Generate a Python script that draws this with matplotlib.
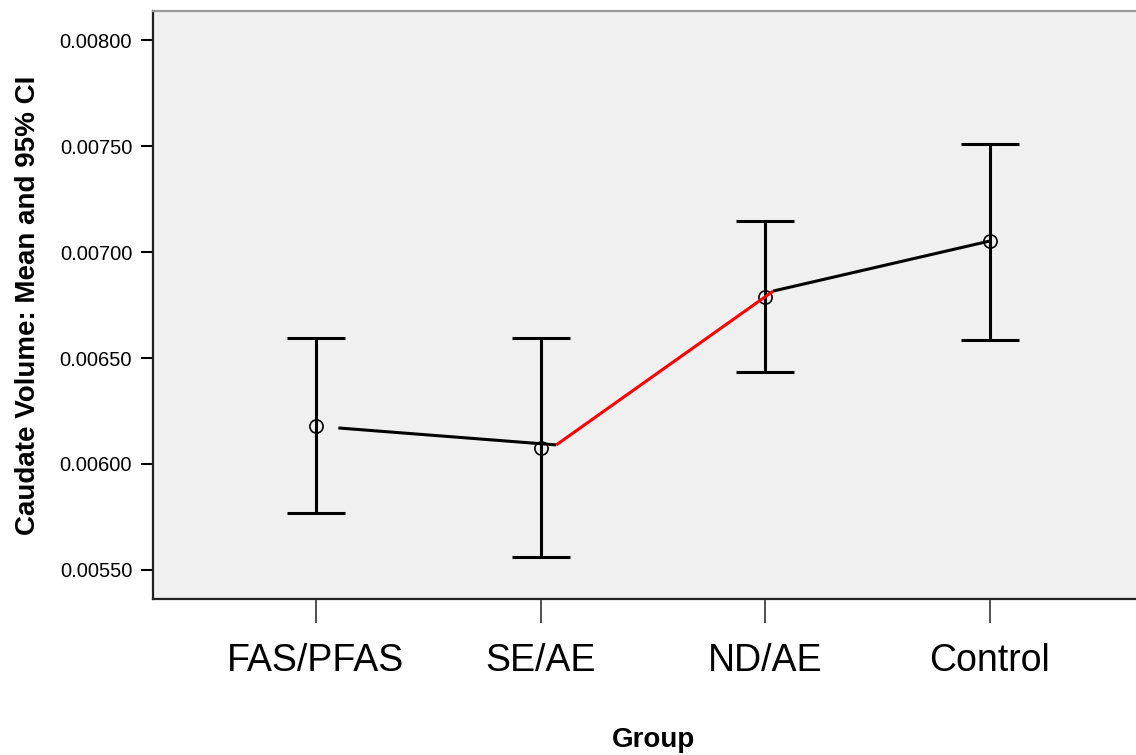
import numpy as np
import matplotlib.pyplot as plt
from matplotlib.ticker import FormatStrFormatter

plt.rcParams['font.family'] = ['Liberation Sans', 'DejaVu Sans']

# data
groups = ['FAS/PFAS', 'SE/AE', 'ND/AE', 'Control']
means = [0.006179, 0.006075, 0.006788, 0.007052]
ci_low = [0.005769, 0.005561, 0.006434, 0.006585]
ci_high = [0.006594, 0.006594, 0.007146, 0.007509]

# connecting line (drawn slightly shifted in the original)
line_y = [0.006170, 0.006090, 0.006816, 0.007052]
line_shift = [0.10, 0.07, 0.036, 0.0]
seg_colors = ['black', 'red', 'black']

x = np.arange(len(groups))
means = np.array(means)
yerr = [means - np.array(ci_low), np.array(ci_high) - means]

fig = plt.figure(figsize=(11.36, 7.55), dpi=100)
ax = fig.add_axes([0.1347, 0.2066, 0.880, 0.7788])
ax.set_facecolor('#f0f0f0')

ax.errorbar(x, means, yerr=yerr, fmt='none', ecolor='black',
            elinewidth=2.2, capsize=21, capthick=2.2, zorder=2)
ax.plot(x, means, 'o', mfc='none', mec='black', mew=1.2, ms=9.5, zorder=3)

lx = x + np.array(line_shift)
for i in range(len(groups) - 1):
    ax.plot(lx[i:i + 2], line_y[i:i + 2], color=seg_colors[i], lw=2.2,
            solid_capstyle='butt', zorder=4)

ax.set_xlim(-0.725, 3.725)
ax.set_ylim(0.005363, 0.008137)
ax.set_yticks([0.0055, 0.0060, 0.0065, 0.0070, 0.0075, 0.0080])
ax.yaxis.set_major_formatter(FormatStrFormatter('%.5f'))
ax.set_xticks(x)
ax.set_xticklabels(groups, fontsize=27)
ax.tick_params(axis='y', labelsize=14.5, length=9, width=1.5, pad=6)
ax.tick_params(axis='x', length=17, width=1.2, color='#333333', pad=15)

for side in ['left', 'bottom']:
    ax.spines[side].set_linewidth(1.6)
    ax.spines[side].set_color('#222222')
ax.spines['top'].set_color('#999999')
ax.spines['top'].set_linewidth(1.6)
ax.spines['right'].set_visible(False)

ax.set_ylabel('Caudate Volume: Mean and 95% CI', fontsize=20, fontweight='bold')
ax.yaxis.set_label_coords(-0.112, 0.5)
fig.text(0.575, 0.003, 'Group', fontsize=20, fontweight='bold', ha='center', va='bottom')

fig.savefig('out.png', dpi=100)
